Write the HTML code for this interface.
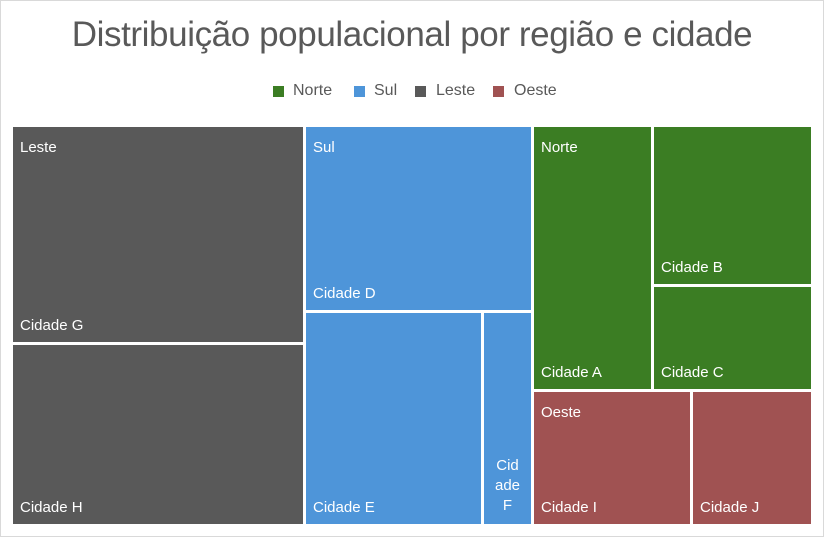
<!DOCTYPE html>
<html><head><meta charset="utf-8"><style>
body{margin:0;width:824px;height:537px;background:#fff;font-family:"Liberation Sans",sans-serif;position:relative;overflow:hidden}
.frame{position:absolute;left:0;top:0;width:822px;height:535px;border:1px solid #d9d9d9}
.t{position:absolute;top:15px;left:0;width:824px;text-align:center;font-size:35px;color:#595959;letter-spacing:-0.4px}
.lg{position:absolute;top:82px;font-size:16px;color:#595959}
.sq{position:absolute;top:86px;width:11px;height:11px}
.b{position:absolute;color:#fff;font-size:15px;box-sizing:border-box}
.h{position:absolute;left:7px;top:12px}
.c{position:absolute;left:7px;bottom:8px}
</style></head><body>
<div class="frame"></div>
<div class="t">Distribuição populacional por região e cidade</div>
<div class="sq" style="left:273px;background:#3b7d23"></div><div class="lg" style="left:293px">Norte</div>
<div class="sq" style="left:354px;background:#4e95d9"></div><div class="lg" style="left:374px">Sul</div>
<div class="sq" style="left:415px;background:#595959"></div><div class="lg" style="left:436px">Leste</div>
<div class="sq" style="left:493px;background:#a05252"></div><div class="lg" style="left:514px">Oeste</div>

<div class="b" style="left:13px;top:127px;width:290px;height:215px;background:#595959"><span class="h">Leste</span><span class="c">Cidade G</span></div>
<div class="b" style="left:13px;top:345px;width:290px;height:179px;background:#595959"><span class="c">Cidade H</span></div>

<div class="b" style="left:306px;top:127px;width:225px;height:183px;background:#4e95d9"><span class="h">Sul</span><span class="c">Cidade D</span></div>
<div class="b" style="left:306px;top:313px;width:175px;height:211px;background:#4e95d9"><span class="c">Cidade E</span></div>
<div class="b" style="left:484px;top:313px;width:47px;height:211px;background:#4e95d9"><span style="position:absolute;left:0;width:47px;text-align:center;bottom:8px;line-height:20px">Cid<br>ade<br>F</span></div>

<div class="b" style="left:534px;top:127px;width:117px;height:262px;background:#3b7d23"><span class="h">Norte</span><span class="c">Cidade A</span></div>
<div class="b" style="left:654px;top:127px;width:157px;height:157px;background:#3b7d23"><span class="c">Cidade B</span></div>
<div class="b" style="left:654px;top:287px;width:157px;height:102px;background:#3b7d23"><span class="c">Cidade C</span></div>

<div class="b" style="left:534px;top:392px;width:156px;height:132px;background:#a05252"><span class="h">Oeste</span><span class="c">Cidade I</span></div>
<div class="b" style="left:693px;top:392px;width:118px;height:132px;background:#a05252"><span class="c">Cidade J</span></div>
</body></html>
